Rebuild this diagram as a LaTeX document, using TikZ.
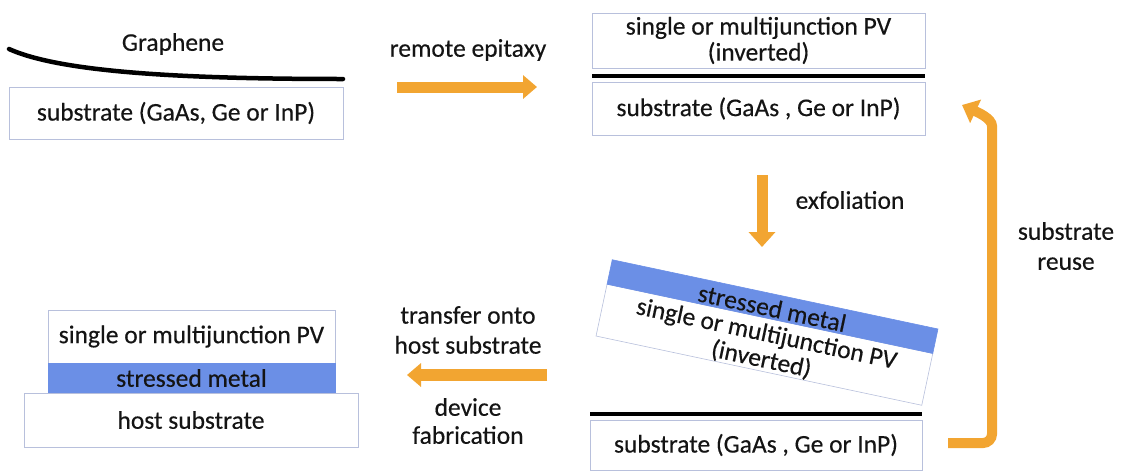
\documentclass[tikz,border=0pt]{standalone}
\usepackage{fontspec}
\setmainfont{Carlito}[FakeBold=0.35]
\usetikzlibrary{arrows.meta}
\definecolor{arr}{HTML}{F2A531}
\definecolor{metal}{HTML}{6B8FE6}
\definecolor{edge}{HTML}{B8C0DC}
\definecolor{txt}{HTML}{141414}
\tikzset{
  every node/.style={text=txt, font=\fontsize{25.5}{29}\selectfont},
  layer/.style={draw=edge, line width=0.6pt, fill=white, inner sep=0pt, align=center, anchor=center},
  metallayer/.style={layer, fill=metal, draw=metal},
  lbl/.style={align=center, inner sep=0pt},
  blackline/.style={line width=4pt, black},
  oarrow/.style={draw=arr, line width=11pt, -{Triangle[width=23pt,length=14pt]}},
}
\begin{document}
\begin{tikzpicture}[x=1pt,y=-1pt]
\useasboundingbox (0,0) rectangle (1122,472);
% top-left
\node[lbl] (graphlbl) at (173,44) {Graphene};
\coordinate (g1) at (9,49);
\coordinate (g2) at (343,79);
\draw[line width=4.5pt, line cap=round] (g1) .. controls (60,72) and (180,79) .. (g2);
\node[layer, minimum width=334pt, minimum height=52pt] (sub1) at (176,113) {substrate (GaAs, Ge or InP)};
% remote epitaxy
\node[lbl] (relbl) at (468,50) {remote epitaxy};
\coordinate (re1) at (397,87);
\coordinate (re2) at (537,87);
\draw[oarrow, line width=11pt] (re1) -- (re2);
% top-right
\node[layer, minimum width=333pt, minimum height=55pt] (pv2) at (758.5,40.5) {single or multijunction PV\\[-3pt](inverted)};
\coordinate (bl2a) at (592,76);
\coordinate (bl2b) at (925,76);
\draw[blackline] (bl2a) -- (bl2b);
\node[layer, minimum width=333pt, minimum height=53pt] (sub2) at (758.5,108.5) {substrate (GaAs , Ge or InP)};
% exfoliation
\coordinate (ex1) at (762,175);
\coordinate (ex2) at (762,247);
\draw[oarrow, -{Triangle[width=26pt,length=15pt]}] (ex1) -- (ex2);
\node[lbl] (exlbl) at (850,200) {exfoliation};
% tilted stack
\begin{scope}[shift={(767,332.5)}, rotate=-12, transform shape]
  \node[layer, minimum width=333pt, minimum height=53pt] (pv3) at (0,12.5) {};
  \node[metallayer, minimum width=333pt, minimum height=25pt] (metal3) at (0,-26.5) {};
  \node[lbl] (metal3lbl) at (0,-25) {stressed metal};
  \node[lbl] (pv3lbl) at (0,15) {single or multijunction PV\\[-3pt](inverted)};
\end{scope}
% bottom-right
\coordinate (bl4a) at (590,414);
\coordinate (bl4b) at (922,414);
\draw[blackline] (bl4a) -- (bl4b);
\node[layer, minimum width=332pt, minimum height=50pt] (sub4) at (756,445) {substrate (GaAs , Ge or InP)};
% substrate reuse
\coordinate (ru1) at (948,443);
\coordinate (ru2) at (992,443);
\coordinate (ru3) at (992,135);
\coordinate (ru4) at (962,105);
\draw[oarrow, line width=10pt, -{Triangle[width=25pt,length=15pt]}, rounded corners=9pt] (ru1) -- (ru2) -- (ru3) to[out=90,in=-25] (ru4);
\node[lbl] (rulbl) at (1066,246) {substrate\\[1pt]reuse};
% transfer arrow
\node[lbl] (trlbl) at (468,330) {transfer onto\\[1pt]host substrate};
\coordinate (tr1) at (547,375);
\coordinate (tr2) at (407,375);
\draw[oarrow, line width=12pt] (tr1) -- (tr2);
\node[lbl] (devlbl) at (468,421) {device\\[-1pt]fabrication};
% bottom-left
\node[layer, minimum width=287pt, minimum height=53pt] (pv5) at (191.5,336.5) {single or multijunction PV};
\node[metallayer, minimum width=287pt, minimum height=30pt] (metal5) at (191.5,378) {stressed metal};
\node[layer, minimum width=334pt, minimum height=54pt] (host5) at (191,420) {host substrate};
\end{tikzpicture}
\end{document}
